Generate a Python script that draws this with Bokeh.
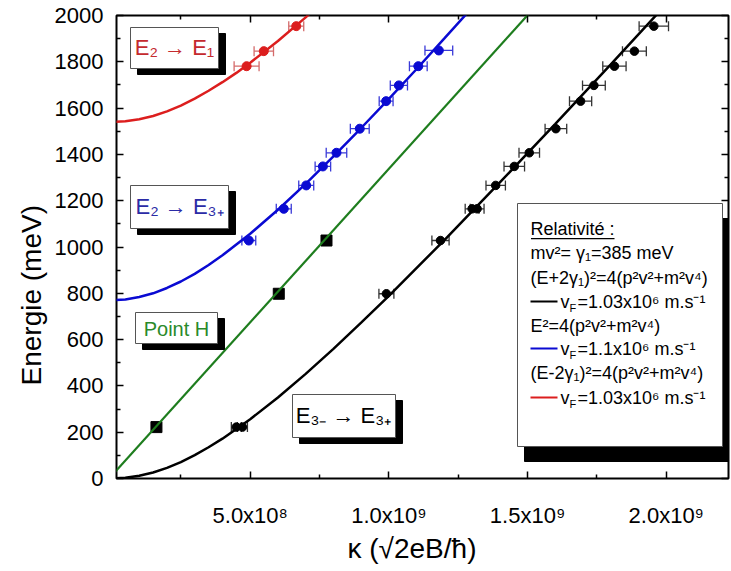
import math
from bokeh.plotting import figure
from bokeh.models import (Range1d, FixedTicker, Label, BoxAnnotation, Whisker,
                          TeeHead, ColumnDataSource, LinearAxis, Title)
from bokeh.embed import file_html
from bokeh.resources import INLINE

# ---------------- data ----------------
x_ticks = [5e8, 1e9, 1.5e9, 2e9]
x_minor = [2.5e8, 7.5e8, 1.25e9, 1.75e9, 2.25e9]
x_tick_labels = ["5.0x10⁸", "1.0x10⁹", "1.5x10⁹", "2.0x10⁹"]
y_ticks = [0, 200, 400, 600, 800, 1000, 1200, 1400, 1600, 1800, 2000]
y_minor = [100, 300, 500, 700, 900, 1100, 1300, 1500, 1700, 1900]

# E2 -> E1 (red)
red_k = [0.487e9, 0.549e9, 0.666e9]
red_E = [1781, 1846, 1954]
red_err = [4.5e7, 3.5e7, 2.7e7]

# E2 -> E3+ (blue)
blue_k = [0.495e9, 0.621e9, 0.702e9, 0.762e9, 0.811e9, 0.895e9, 0.990e9, 1.036e9, 1.106e9, 1.180e9]
blue_E = [1028, 1165, 1266, 1348, 1407, 1511, 1630, 1698, 1781, 1849]
blue_err = [2.5e7, 2.7e7, 2.7e7, 2.8e7, 3.7e7, 3.4e7, 2.5e7, 3.1e7, 3.2e7, 5.0e7]

# E3- -> E3+ (black)
black_k = [0.450e9, 0.472e9, 0.991e9, 1.186e9, 1.300e9, 1.318e9, 1.385e9, 1.452e9,
           1.506e9, 1.602e9, 1.691e9, 1.739e9, 1.813e9, 1.885e9, 1.955e9]
black_E = [222, 222, 798, 1028, 1165, 1165, 1266, 1348, 1407, 1511, 1630, 1698, 1781, 1846, 1954]
black_err = [1.8e7, 1.8e7, 2.7e7, 3.1e7, 2.5e7, 2.5e7, 3.5e7, 3.7e7, 3.7e7, 3.9e7,
             4.0e7, 4.1e7, 4.2e7, 4.3e7, 5.3e7]

# Point H (black squares on the green line)
green_k = [0.162e9, 0.603e9, 0.775e9]
green_E = [222, 798, 1028]

# fitted curves
black_curve_k = [0.0, 0.05e9, 0.1e9, 0.15e9, 0.2e9, 0.25e9, 0.3e9, 0.35e9, 0.4e9, 0.5e9, 0.6e9,
                 0.7e9, 0.8e9, 0.9e9, 1.0e9, 1.2e9, 1.4e9, 1.6e9, 1.8e9, 2.0e9]
black_curve_E = [0, 3, 12, 26, 46, 71, 101, 135, 172, 256, 350, 452, 560, 673, 789, 1030,
                 1279, 1532, 1789, 2049]

blue_curve_k = [0.0, 0.05e9, 0.1e9, 0.15e9, 0.2e9, 0.25e9, 0.3e9, 0.35e9, 0.4e9, 0.5e9, 0.6e9,
                0.7e9, 0.8e9, 0.9e9, 1.0e9, 1.1e9, 1.2e9, 1.3e9]
blue_curve_E = [770, 773, 784, 800, 823, 851, 884, 922, 964, 1057, 1161, 1273, 1391, 1514,
                1640, 1769, 1901, 2034]

red_curve_k = [0.0, 0.05e9, 0.1e9, 0.15e9, 0.2e9, 0.25e9, 0.3e9, 0.35e9, 0.4e9, 0.45e9, 0.5e9,
               0.6e9, 0.7e9, 0.72e9]
red_curve_E = [1540, 1543, 1552, 1566, 1586, 1611, 1641, 1675, 1712, 1752, 1796, 1890, 1992, 2014]

green_line_k = [0.0, 1.52e9]
green_line_E = [11, 2028]

# ---------------- styling ----------------
FONT = "Liberation Sans"
C_BLACK = "#000000"
C_BLUE = "#0a0ad2"
C_RED = "#dc1e1e"
C_GREEN = "#1e7d1e"


def kx(px):
    """page pixel x -> kappa data coordinate (for annotations)"""
    return (px - 111.0) * 5e8 / 138.7


def ey(py):
    """page pixel y -> energy data coordinate (for annotations)"""
    return (478.0 - py) * 2000.0 / 463.0


p = figure(width=731, height=571, output_backend="svg", toolbar_location=None,
           x_range=Range1d(kx(116), kx(728)), y_range=Range1d(0, 2000),
           min_border_left=116, min_border_right=3, min_border_top=15, min_border_bottom=93)
p.xgrid.visible = False
p.ygrid.visible = False
p.outline_line_color = "black"
p.outline_line_width = 2
p.background_fill_color = "white"
p.border_fill_color = "white"

xa = p.xaxis[0]
xa.ticker = FixedTicker(ticks=x_ticks, minor_ticks=x_minor)
xa.major_label_overrides = {t: l for t, l in zip(x_ticks, x_tick_labels)}
ya = p.yaxis[0]
ya.ticker = FixedTicker(ticks=y_ticks, minor_ticks=y_minor)

for ax in (xa, ya):
    ax.axis_line_color = None
    ax.major_tick_in = 7
    ax.major_tick_out = 0
    ax.minor_tick_in = 4
    ax.minor_tick_out = 0
    ax.major_tick_line_width = 1.5
    ax.minor_tick_line_width = 1.5
    ax.major_label_text_font = FONT
    ax.major_label_text_font_size = "22px"
    ax.major_label_text_color = "black"
xa.major_label_standoff = 24
ya.major_label_standoff = 13

top = LinearAxis(ticker=FixedTicker(ticks=x_ticks, minor_ticks=x_minor),
                 major_label_overrides={t: "" for t in x_ticks},
                 axis_line_color=None, major_tick_in=7, major_tick_out=0,
                 minor_tick_in=4, minor_tick_out=0, major_label_standoff=0,
                 major_tick_line_width=1.5, minor_tick_line_width=1.5,
                 major_label_text_font_size="1px")
p.add_layout(top, "above")
right = LinearAxis(ticker=FixedTicker(ticks=y_ticks, minor_ticks=y_minor),
                   major_label_overrides={t: "" for t in y_ticks},
                   axis_line_color=None, major_tick_in=7, major_tick_out=0,
                   minor_tick_in=4, minor_tick_out=0, major_label_standoff=0,
                   major_tick_line_width=1.5, minor_tick_line_width=1.5,
                   major_label_text_font_size="1px")
p.add_layout(right, "right")

# axis titles
p.add_layout(Title(text="Energie (meV)", align="left", offset=93, standoff=10,
                   text_font=FONT, text_font_size="28px", text_font_style="normal",
                   text_color="black"), "left")
p.add_layout(Title(text="κ (√2eB/ħ)", align="left", offset=231, standoff=0,
                   text_font=FONT, text_font_size="28px", text_font_style="normal",
                   text_color="black"), "below")

# ---------------- marks ----------------
p.scatter(green_k, green_E, marker="square", size=11, fill_color="black", line_color="black")
p.line(green_line_k, green_line_E, line_color=C_GREEN, line_width=2.2)

p.line(red_curve_k, red_curve_E, line_color=C_RED, line_width=2.5)
p.line(blue_curve_k, blue_curve_E, line_color=C_BLUE, line_width=2.5)
p.line(black_curve_k, black_curve_E, line_color=C_BLACK, line_width=2.5)


def points_with_err(ks, Es, errs, color, err_color, size):
    src = ColumnDataSource(dict(k=ks, E=Es,
                                lo=[k - e for k, e in zip(ks, errs)],
                                hi=[k + e for k, e in zip(ks, errs)]))
    w = Whisker(source=src, base="E", lower="lo", upper="hi", dimension="width",
                line_color=err_color, line_width=1.3,
                upper_head=TeeHead(size=10, line_color=err_color, line_width=1.3),
                lower_head=TeeHead(size=10, line_color=err_color, line_width=1.3))
    p.add_layout(w)
    p.scatter("k", "E", source=src, size=size, color=color)


points_with_err(red_k, red_E, red_err, C_RED, "#d46a6a", 9)
points_with_err(blue_k, blue_E, blue_err, C_BLUE, "#3a3ad8", 9)
points_with_err(black_k, black_E, black_err, C_BLACK, "#333333", 8.5)


# ---------------- annotations ----------------
def box(l, t, r, b, dx=7, dy=6, border="#555555"):
    p.add_layout(BoxAnnotation(left=kx(l + dx), right=kx(r + dx), top=ey(t + dy), bottom=ey(b + dy),
                               fill_color="black", fill_alpha=1, line_color="black",
                               line_alpha=1, line_width=1, line_dash="solid"))
    p.add_layout(BoxAnnotation(left=kx(l), right=kx(r), top=ey(t), bottom=ey(b),
                               fill_color="white", fill_alpha=1, line_color=border,
                               line_alpha=1, line_width=1, line_dash="solid"))


def text(x, y, s, size, color="black", align="left", baseline="middle", angle=0.0):
    p.add_layout(Label(x=kx(x), y=ey(y), text=s, text_font=FONT, text_font_size=size,
                       text_color=color, text_align=align, text_baseline=baseline,
                       angle=angle))


box(130, 27, 218, 68)
text(174, 47, "E₂ → E₁", "22px", "#c42a2e", "center")

box(130, 185, 228, 228)
text(179, 206, "E₂ → E₃₊", "22px", "#2b2ba6", "center")

box(135, 312, 217, 343)
text(176, 328, "Point H", "20px", "#2a8a2a", "center")

box(292, 394, 395, 437)
text(343, 415, "E₃₋ → E₃₊", "22px", "black", "center")

# legend
box(517, 203, 722, 446, dx=7, dy=15)
LX = 530
FS = "18px"
text(LX, 228, "Relativité :", FS)
p.add_layout(BoxAnnotation(left=kx(530.5), right=kx(614), top=ey(237.5), bottom=ey(238.8),
                           fill_color="black", fill_alpha=1, line_alpha=0))
text(LX, 252, "mv²= γ₁=385 meV", FS)
text(LX, 277, "(E+2γ₁)²=4(p²v²+m²v⁴)", FS)
text(LX, 325, "E²=4(p²v²+m²v⁴)", FS)
text(LX, 372, "(E-2γ₁)²=4(p²v²+m²v⁴)", FS)

for yy, col, val in [(301, C_BLACK, "=1.03x10⁶ m.s⁻¹"),
                     (348, C_BLUE, "=1.1x10⁶ m.s⁻¹"),
                     (397, C_RED, "=1.03x10⁶ m.s⁻¹")]:
    p.add_layout(BoxAnnotation(left=kx(530), right=kx(557), top=ey(yy - 1), bottom=ey(yy + 1),
                               fill_color=col, fill_alpha=1, line_alpha=0))
    text(560, yy, "v", FS)
    text(569, yy + 6, "F", "11px")
    text(577, yy, val, FS)

open("out.html", "w").write(file_html(p, INLINE))
